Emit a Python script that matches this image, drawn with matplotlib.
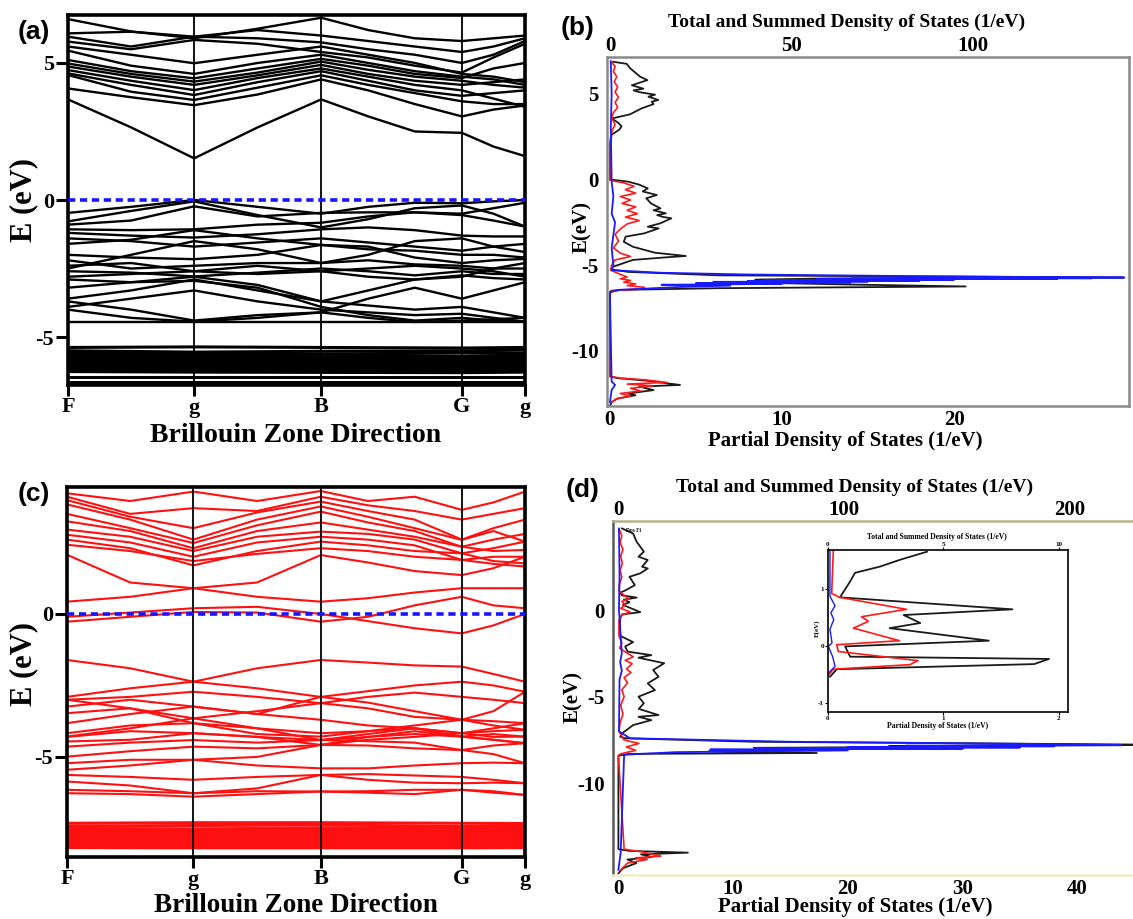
import matplotlib
matplotlib.use("Agg")
import matplotlib.pyplot as plt

plt.rcParams['font.family'] = ['Liberation Serif', 'DejaVu Serif']
plt.rcParams['font.weight'] = 'bold'
plt.rcParams['axes.unicode_minus'] = False

W, H = 1133, 919

# ---------------- band structure data ----------------
# high symmetry points along the path (fraction of path length)
k_sym = [0.0, 0.276, 0.554, 0.862, 1.0]
k_names = ["F", "g", "B", "G", "g"]
k_pts = [0.0, 0.138, 0.276, 0.415, 0.554, 0.657, 0.759, 0.862, 0.931, 1.0]

# (a) conduction bands, eV at k_pts
a_cond = [
    [3.67, 2.65, 1.52, 2.65, 3.67, 3.05, 2.5, 2.45, 1.95, 1.6],
    [4.07, 3.75, 3.46, 3.85, 4.4, 4.0, 3.5, 3.05, 3.3, 3.45],
    [4.56, 3.95, 3.65, 4.1, 4.55, 4.2, 3.9, 3.6, 3.5, 3.5],
    [4.62, 4.2, 3.83, 4.3, 4.7, 4.35, 4.0, 3.8, 3.9, 4.0],
    [4.74, 4.35, 4.01, 4.45, 4.8, 4.5, 4.2, 4.0, 3.7, 3.4],
    [4.87, 4.5, 4.2, 4.55, 4.93, 4.6, 4.35, 4.2, 4.3, 4.4],
    [4.98, 4.6, 4.32, 4.65, 5.05, 4.75, 4.5, 4.35, 4.2, 4.1],
    [5.11, 4.7, 4.44, 4.8, 5.15, 4.9, 4.6, 4.45, 4.8, 5.0],
    [5.45, 4.9, 4.6, 5.0, 5.3, 5.0, 4.7, 4.5, 4.4, 4.2],
    [5.6, 5.3, 4.99, 5.3, 5.6, 5.3, 5.0, 4.6, 4.5, 4.3],
    [5.78, 5.5, 5.84, 5.7, 5.4, 5.2, 4.9, 4.65, 5.2, 5.7],
    [5.96, 5.6, 5.96, 5.9, 5.75, 5.5, 5.3, 5.0, 5.3, 5.8],
    [6.08, 6.14, 5.96, 6.2, 6.0, 5.8, 5.6, 5.4, 5.6, 5.9],
    [6.6, 6.15, 5.9, 6.25, 6.65, 6.2, 5.9, 5.8, 5.9, 6.0],
]
# (a) valence bands
a_val = [
    [-0.47, -0.25, 0.0, -0.25, -0.5, -0.25, -0.1, -0.12, -0.05, 0.0],
    [-0.78, -0.4, -0.05, -0.55, -1.0, -0.7, -0.3, -0.2, -0.5, -0.97],
    [-0.9, -0.75, -0.23, -0.6, -0.47, -0.45, -0.45, -0.5, -0.3, -0.1],
    [-1.07, -1.1, -1.07, -0.9, -0.83, -0.6, -0.45, -0.55, -0.75, -0.97],
    [-1.2, -1.3, -1.37, -1.25, -1.07, -1.0, -1.1, -1.3, -1.33, -1.33],
    [-1.4, -1.5, -1.7, -1.55, -1.4, -1.55, -1.7, -1.85, -1.7, -1.6],
    [-1.6, -1.45, -1.1, -1.4, -1.64, -1.8, -1.85, -2.0, -2.0, -2.1],
    [-2.0, -2.1, -2.16, -2.0, -1.64, -1.7, -2.1, -2.3, -2.2, -2.15],
    [-2.2, -2.5, -2.4, -2.3, -2.3, -2.2, -2.35, -2.4, -2.5, -2.5],
    [-2.4, -2.3, -2.6, -2.7, -2.6, -2.5, -2.4, -2.5, -2.6, -2.8],
    [-2.6, -2.65, -2.79, -2.65, -2.5, -2.6, -2.75, -2.6, -2.7, -2.7],
    [-2.8, -2.7, -2.6, -2.4, -2.6, -2.8, -2.9, -2.75, -2.85, -2.9],
    [-2.5, -2.0, -1.5, -1.8, -2.3, -2.0, -1.5, -1.4, -1.7, -1.9],
    [-2.9, -3.0, -2.8, -3.1, -3.7, -3.3, -2.9, -2.8, -2.5, -2.3],
    [-3.2, -3.0, -2.95, -3.2, -3.9, -4.2, -4.4, -4.3, -4.4, -4.44],
    [-3.6, -3.3, -2.9, -3.3, -3.7, -3.85, -4.0, -3.9, -4.1, -4.3],
    [-3.7, -4.0, -4.4, -4.2, -4.1, -3.6, -3.2, -3.6, -3.3, -3.0],
    [-3.9, -3.6, -3.3, -3.7, -4.0, -4.1, -4.2, -4.15, -4.3, -4.44],
    [-4.0, -4.3, -4.44, -4.3, -4.1, -4.3, -4.45, -4.4, -4.35, -4.3],
    [-4.44, -4.44, -4.44, -4.44, -4.44, -4.44, -4.44, -4.44, -4.44, -4.44],
]
# (a) dense semicore bands, eV at k_sym
a_core = [
    [-5.38, -5.36, -5.38, -5.40, -5.38],
    [-5.50, -5.55, -5.52, -5.50, -5.48],
    [-5.58, -5.60, -5.62, -5.58, -5.60],
    [-5.65, -5.68, -5.66, -5.70, -5.66],
    [-5.72, -5.74, -5.75, -5.73, -5.72],
    [-5.78, -5.80, -5.82, -5.80, -5.78],
    [-5.85, -5.86, -5.88, -5.86, -5.84],
    [-5.90, -5.93, -5.92, -5.94, -5.91],
    [-5.96, -5.98, -5.99, -6.00, -5.97],
    [-6.02, -6.04, -6.05, -6.05, -6.03],
    [-6.08, -6.10, -6.12, -6.12, -6.10],
    [-6.14, -6.16, -6.18, -6.18, -6.15],
    [-6.20, -6.22, -6.24, -6.24, -6.22],
    [-6.26, -6.28, -6.29, -6.30, -6.28],
    [-6.45, -6.45, -6.45, -6.45, -6.45],
    [-6.63, -6.63, -6.63, -6.63, -6.63],
]

# (c) bands
c_cond = [
    [4.22, 3.95, 4.28, 3.95, 4.3, 3.95, 4.1, 3.64, 3.9, 4.28],
    [4.10, 3.5, 3.7, 3.6, 4.1, 3.8, 3.6, 3.3, 3.5, 3.7],
    [3.98, 3.4, 3.0, 3.55, 3.93, 3.6, 3.3, 2.6, 3.0, 3.3],
    [3.83, 3.3, 2.6, 3.3, 3.76, 3.4, 3.0, 2.59, 2.9, 2.53],
    [3.5, 3.0, 2.48, 3.1, 3.58, 3.2, 2.9, 2.35, 2.6, 2.8],
    [3.24, 2.9, 2.3, 2.9, 3.2, 2.95, 2.7, 2.35, 2.2, 2.24],
    [2.95, 2.7, 2.2, 2.7, 2.88, 2.8, 2.6, 2.12, 2.3, 2.53],
    [2.77, 2.5, 2.0, 2.5, 2.7, 2.6, 2.4, 1.89, 2.0, 2.0],
    [2.6, 2.3, 1.7, 2.2, 2.53, 2.4, 2.2, 2.12, 1.85, 1.77],
    [2.42, 2.2, 1.85, 2.1, 2.3, 2.2, 2.0, 1.89, 1.75, 1.66],
    [2.07, 1.1, 0.9, 1.1, 2.06, 1.8, 1.5, 1.36, 1.6, 2.0],
    [0.43, 0.6, 0.9, 0.6, 0.43, 0.55, 0.75, 0.9, 0.9, 0.9],
    [-0.1, 0.05, 0.2, 0.25, 0.0, -0.25, -0.5, -0.68, -0.4, 0.0],
    [-0.27, -0.1, 0.07, 0.05, -0.27, -0.1, 0.3, 0.6, 0.3, 0.2],
]
c_val = [
    [-1.61, -1.9, -2.37, -1.9, -1.61, -1.7, -1.8, -1.84, -2.1, -2.37],
    [-2.9, -2.6, -2.37, -2.6, -2.9, -2.7, -2.5, -2.37, -2.5, -2.72],
    [-3.0, -2.9, -2.72, -2.9, -3.12, -2.9, -2.75, -2.9, -3.0, -3.12],
    [-3.24, -3.0, -3.24, -3.5, -2.9, -3.1, -3.4, -3.7, -3.4, -2.72],
    [-3.47, -3.3, -3.65, -3.4, -3.12, -3.3, -3.6, -3.7, -3.75, -3.82],
    [-3.82, -3.5, -3.24, -3.5, -3.7, -3.9, -4.0, -4.17, -4.0, -3.82],
    [-4.17, -3.9, -3.82, -4.0, -4.17, -4.1, -4.0, -4.17, -4.1, -4.05],
    [-4.29, -4.0, -3.65, -4.0, -4.41, -4.2, -4.0, -4.29, -4.2, -4.29],
    [-4.46, -4.4, -4.17, -4.3, -4.58, -4.3, -4.1, -4.29, -4.4, -4.52],
    [-4.64, -4.5, -4.41, -4.5, -4.41, -4.45, -4.5, -4.76, -4.6, -4.52],
    [-4.99, -4.8, -4.64, -4.7, -4.58, -4.6, -4.7, -4.76, -4.9, -5.22],
    [-5.22, -5.1, -5.1, -5.0, -4.58, -4.4, -4.3, -4.17, -4.3, -4.29],
    [-5.45, -5.3, -5.1, -5.3, -5.4, -5.4, -5.3, -5.22, -5.2, -5.22],
    [-5.63, -5.7, -5.8, -5.7, -5.63, -5.6, -5.65, -5.7, -5.8, -5.92],
    [-5.86, -6.0, -6.27, -6.1, -5.63, -5.8, -5.9, -5.92, -5.9, -5.92],
    [-6.15, -6.2, -6.27, -6.2, -6.21, -6.2, -6.15, -6.15, -6.2, -6.33],
    [-6.27, -6.3, -6.39, -6.3, -6.21, -6.25, -6.3, -6.15, -6.25, -6.33],
    [-3.0, -3.3, -3.82, -4.2, -4.29, -4.1, -3.9, -3.7, -3.9, -4.05],
    [-4.3, -4.1, -4.17, -4.3, -4.41, -4.3, -4.2, -4.29, -4.4, -4.52],
]
c_core = [
    [-7.32, -7.30, -7.30, -7.32, -7.33],
    [-7.42, -7.40, -7.38, -7.43, -7.40],
    [-7.50, -7.52, -7.48, -7.50, -7.48],
    [-7.56, -7.58, -7.56, -7.58, -7.55],
    [-7.62, -7.64, -7.63, -7.64, -7.62],
    [-7.68, -7.70, -7.70, -7.70, -7.68],
    [-7.74, -7.76, -7.76, -7.78, -7.75],
    [-7.80, -7.82, -7.82, -7.84, -7.81],
    [-7.86, -7.88, -7.88, -7.90, -7.87],
    [-7.92, -7.94, -7.94, -7.95, -7.93],
    [-7.98, -8.00, -8.00, -8.01, -7.99],
    [-8.04, -8.06, -8.06, -8.07, -8.05],
    [-8.10, -8.12, -8.12, -8.12, -8.11],
    [-8.17, -8.18, -8.18, -8.18, -8.17],
]

# ---------------- DOS data (b) ----------------
# total DOS (top axis, 1/eV)
b_tot_E = [6.87, 6.75, 6.5, 6.0, 5.8, 5.5, 5.3, 5.2, 5.1, 4.95, 4.83, 4.64, 4.54, 4.4,
           4.15, 3.8, 3.56, 3.3, 3.1, 2.9, 2.6, 2.1, 2.0, 0.0, -0.13, -0.3, -0.52, -0.7,
           -0.91, -1.1, -1.4, -1.69, -1.8, -1.98, -2.08, -2.18, -2.27, -2.56, -2.76, -2.86,
           -3.15, -3.34, -3.64, -3.93, -4.28, -4.47, -4.55, -4.7, -5.1, -5.25, -5.4, -5.6,
           -5.72, -5.78, -5.85, -5.95, -6.05, -6.15, -6.25, -6.35, -6.45, -6.5, -6.6,
           -11.5, -11.6, -11.75, -12.0, -12.1, -12.3, -12.5, -12.6, -12.8, -13.0, -13.2]
b_tot = [0.9, 4.6, 5.5, 8.3, 10.3, 6.0, 9.2, 6.5, 8.0, 12.4, 10.6, 13.3, 11.5, 12.0,
         8.7, 5.5, 0.5, 2.3, 3.2, 2.5, 0.4, 0.2, 0.0, 0.0, 5.0, 8.0, 10.4, 9.0,
         12.9, 10.0, 11.3, 13.9, 12.0, 15.4, 13.0, 14.4, 16.9, 13.9, 10.4, 13.4,
         9.4, 4.3, 3.8, 6.3, 12.4, 20.9, 15.4, 6.3, 0.8, 0.3, 5.0, 30.0,
         141.0, 60.0, 40.0, 55.0, 45.0, 70.0, 98.0, 30.0, 3.0, 0.3, 0.0,
         0.0, 2.0, 10.0, 19.3, 8.0, 12.0, 5.0, 7.0, 2.0, 0.5, 0.0]
# partial DOS (bottom axis, 1/eV)
b_red_E = [6.9, 6.6, 6.3, 6.0, 5.7, 5.4, 5.1, 4.8, 4.5, 4.2, 3.9, 3.6, 3.2, 2.9, 2.5, 2.2,
           -0.05, -0.2, -0.4, -0.6, -0.8, -1.0, -1.2, -1.4, -1.6, -1.8, -2.0, -2.2, -2.4,
           -2.6, -2.9, -3.2, -3.6, -4.0, -4.3, -4.5, -4.7, -5.0, -5.3, -5.5, -5.7, -5.8,
           -5.9, -6.0, -6.1, -6.2, -6.3, -6.4, -6.5, -6.6,
           -11.5, -11.6, -11.7, -11.85, -11.95, -12.05, -12.2, -12.35, -12.5, -12.65,
           -12.8, -13.0]
b_red = [0.05, 0.3, 0.2, 0.4, 0.25, 0.45, 0.3, 0.5, 0.3, 0.45, 0.2, 0.1, 0.3, 0.15, 0.05, 0.0,
         0.0, 0.8, 1.4, 0.9, 1.5, 0.6, 1.2, 0.7, 1.5, 1.0, 1.6, 0.9, 1.7,
         1.0, 0.6, 0.3, 0.5, 0.2, 0.6, 1.2, 0.3, 0.1, 0.05, 0.5, 1.0, 0.6,
         1.2, 0.8, 1.5, 1.0, 2.0, 1.8, 0.2, 0.0,
         0.0, 0.6, 2.0, 3.3, 1.0, 2.5, 1.2, 1.8, 0.6, 1.2,
         0.4, 0.1]
b_blue_E = [6.9, 5.0, 3.0, -0.1, -1.0, -2.0, -2.5, -4.0, -5.0, -5.3, -5.45, -5.55, -5.65,
            -5.70, -5.73, -5.75, -5.77, -5.79, -5.81, -5.83, -5.86, -5.88, -5.91, -5.93,
            -5.96, -5.98, -6.02, -6.05, -6.1, -6.15, -6.2, -6.28, -6.38, -6.45, -6.6,
            -11.8, -12.0, -12.3, -13.0]
b_blue = [0.05, 0.1, 0.05, 0.1, 0.2, 0.1, 0.3, 0.1, 0.2, 0.1, 3.0, 8.0, 18.0,
          24.0, 29.9, 20.0, 28.0, 14.0, 26.0, 12.0, 20.0, 9.0, 18.0, 8.0,
          15.0, 6.0, 14.0, 5.0, 10.0, 3.0, 7.0, 4.0, 2.0, 0.5, 0.0,
          0.1, 0.3, 0.1, 0.0]

# ---------------- DOS data (d) ----------------
d_tot_E = [4.71, 4.42, 3.94, 3.37, 3.08, 2.89, 2.5, 2.4, 2.12, 1.92, 1.44, 1.15, 1.0, 0.85,
           0.72, 0.6, 0.45, 0.3, -0.12, -0.25, -0.5, -1.3, -1.5, -1.85, -2.1, -2.4, -2.6,
           -2.75, -3.07, -3.46, -3.85, -4.23, -4.62, -5.0, -5.38, -5.7, -6.06, -6.16, -6.35,
           -6.64, -7.12, -7.31, -7.4, -7.6, -7.78, -7.85, -7.9, -7.95, -8.05, -8.15, -8.25,
           -8.3, -8.4, -13.8, -13.9, -14.0, -14.1, -14.25, -14.4, -14.6, -14.9, -15.2]
d_tot = [1.6, 6.5, 8.1, 11.3, 8.9, 13.0, 10.5, 13.0, 9.7, 4.9, 7.3, 3.3, 0.8, 1.5,
         8.1, 2.4, 4.9, 2.0, 9.7, 1.6, 0.8, 0.5, 1.0, 6.5, 3.0, 4.1, 14.6,
         8.9, 20.3, 15.4, 17.8, 13.0, 16.2, 8.9, 11.3, 9.0, 17.8, 8.9, 14.6,
         6.5, 1.6, 0.8, 3.0, 60.0, 250.0, 120.0, 140.0, 60.0, 85.0, 40.0, 88.0,
         5.0, 0.0, 0.0, 5.0, 30.8, 10.0, 15.0, 4.0, 8.0, 2.0, 0.0]
d_red_E = [4.7, 4.3, 3.9, 3.5, 3.1, 2.7, 2.3, 1.9, 1.5, 1.1, 0.8, 0.65, 0.5, 0.3, 0.1, -0.1,
           -0.3, -0.6, -1.5, -1.9, -2.2, -2.5, -2.7, -2.9, -3.1, -3.4, -3.6, -3.9, -4.2,
           -4.6, -5.0, -5.5, -6.0, -6.5, -7.0, -7.5, -7.7, -7.9, -8.1, -8.3, -8.4,
           -13.8, -13.95, -14.2, -14.3, -14.4, -14.6, -15.0]
d_red = [0.05, 0.3, 0.15, 0.4, 0.2, 0.35, 0.15, 0.3, 0.1, 0.05, 0.6, 0.9, 0.3, 0.6, 0.2, 1.0,
         0.3, 0.05, 0.05, 0.3, 0.1, 0.8, 1.3, 0.6, 1.2, 0.7, 1.1, 0.5, 0.8,
         0.3, 0.5, 0.2, 0.4, 0.15, 0.05, 0.5, 1.8, 0.7, 1.5, 0.2, 0.0,
         0.5, 2.0, 3.7, 1.5, 2.5, 0.8, 0.2]
d_blue_E = [4.7, 2.0, 0.0, -2.5, -3.0, -3.5, -4.0, -7.0, -7.4, -7.6, -7.75, -7.8, -7.83,
            -7.86, -7.9, -7.93, -7.96, -8.0, -8.05, -8.1, -8.2, -8.35, -14.0, -15.0]
d_blue = [0.05, 0.1, 0.05, 0.3, 0.15, 0.3, 0.1, 0.05, 1.0, 15.0, 40.0, 43.8, 25.0,
          38.0, 20.0, 35.0, 12.0, 30.0, 8.0, 20.0, 5.0, 0.5, 0.2, 0.0]

# ---------------- inset of (d) ----------------
ins_tot_E = [1.65, 1.51, 1.39, 1.28, 1.13, 0.85, 0.64, 0.54, 0.40, 0.31, 0.09, -0.01,
             -0.19, -0.23, -0.32, -0.41, -0.54]
ins_tot = [4.29, 3.13, 2.26, 1.17, 0.96, 0.52, 7.99, 3.28, 4.0, 2.67, 6.97, 0.74,
           0.96, 9.58, 8.93, 0.38, 0.09]
ins_red_E = [1.68, 0.92, 0.85, 0.64, 0.51, 0.43, 0.31, 0.09, 0.02, -0.10, -0.26, -0.33,
             -0.41, -0.52]
ins_red = [0.046, 0.032, 0.10, 0.68, 0.29, 0.35, 0.22, 0.62, 0.075, 0.09, 0.78, 0.71,
           0.046, 0.003]
ins_blue_E = [1.68, 0.87, 0.70, 0.58, 0.46, 0.29, 0.05, -0.01, -0.19, -0.36, -0.48]
ins_blue = [0.017, 0.017, 0.061, 0.025, 0.05, 0.017, 0.035, 0.003, 0.04, 0.061, 0.003]


def box(l, t, r, b):
    return [l / W, 1 - b / H, (r - l) / W, (b - t) / H]


fig = plt.figure(figsize=(W / 100, H / 100), dpi=100)


def ftext(x, y, s, **kw):
    kw.setdefault('ha', 'center')
    kw.setdefault('va', 'center')
    fig.text(x / W, 1 - y / H, s, **kw)


def band_panel(rect, ylim, yt, bands, core, color, lw):
    ax = fig.add_axes(rect)
    for b in bands:
        ax.plot(k_pts, b, color=color, lw=lw, solid_joinstyle='round')
    for b in core:
        ax.plot(k_sym, b, color=color, lw=2.2)
    for k in k_sym[1:-1]:
        ax.axvline(k, color='k', lw=1.3, zorder=3)
    ax.plot([0, 1], [0, 0], color='#1515ff', lw=2.6, ls=(0, (2.0, 1.3)), zorder=4)
    ax.set_xlim(0, 1)
    ax.set_ylim(*ylim)
    ax.set_xticks(k_sym)
    ax.set_xticklabels(k_names, fontsize=16)
    ax.set_yticks(yt)
    ax.set_yticklabels([str(v) for v in yt], fontsize=16)
    ax.tick_params(axis='x', direction='out', length=8, width=2.2, pad=1)
    ax.tick_params(axis='y', direction='out', length=9, width=2.2, pad=1)
    for s in ax.spines.values():
        s.set_linewidth(2.6)
    return ax


ax_a = band_panel(box(68, 15, 525, 385), (-6.75, 6.75), [5, 0, -5],
                  a_cond + a_val, a_core, 'black', 1.7)
ax_c = band_panel(box(67, 487, 525, 857), (-8.5, 4.44), [0, -5],
                  c_cond + c_val, c_core, '#ff1010', 1.5)

ftext(24, 200, "E (eV)", rotation=90, fontsize=22)
ftext(24, 664, "E (eV)", rotation=90, fontsize=22)
ftext(296, 436, "Brillouin Zone Direction", fontsize=20)
ftext(296, 906, "Brillouin Zone Direction", fontsize=19.5)


def dos_panel(rect, ylim, xlim_p, xlim_t, xt_p, xt_t, yt, data, spine_cols, fs=15):
    ax = fig.add_axes(rect)
    axt = ax.twiny()
    tE, tv, rE, rv, bE, bv = data
    axt.plot(tv, tE, color='#1a1a1a', lw=1.3)
    ax.plot(rv, rE, color='#ff1a1a', lw=1.2)
    ax.plot(bv, bE, color='#1a1aff', lw=1.3)
    ax.set_zorder(axt.get_zorder() + 1)
    ax.patch.set_visible(False)
    ax.set_ylim(*ylim)
    ax.set_xlim(*xlim_p)
    axt.set_xlim(*xlim_t)
    ax.set_xticks(xt_p)
    ax.set_xticklabels([str(v) for v in xt_p], fontsize=fs)
    axt.set_xticks(xt_t)
    axt.set_xticklabels([str(v) for v in xt_t], fontsize=fs)
    ax.set_yticks(yt)
    ax.set_yticklabels([str(v) for v in yt], fontsize=fs)
    ax.tick_params(length=0, pad=3)
    axt.tick_params(length=0, pad=1)
    for side, col in spine_cols.items():
        ax.spines[side].set_color(col)
        ax.spines[side].set_linewidth(1.8)
    for s in axt.spines.values():
        s.set_visible(False)
    return ax, axt


ax_b, ax_bt = dos_panel(box(607, 57, 1129, 406), (-13.23, 7.15), (-0.17, 30.17), (-0.83, 143),
                        [0, 10, 20], [0, 50, 100], [5, 0, -5, -10],
                        (b_tot_E, b_tot, b_red_E, b_red, b_blue_E, b_blue),
                        {'left': '#8a8a8a', 'right': '#8a8a8a', 'top': '#8a8a8a', 'bottom': '#8a8a8a'})
ax_d, ax_dt = dos_panel(box(613, 521, 1145, 875), (-15.29, 5.14), (-0.47, 45.9), (-2.4, 233.6),
                        [0, 10, 20, 30, 40], [0, 100, 200], [0, -5, -10],
                        (d_tot_E, d_tot, d_red_E, d_red, d_blue_E, d_blue),
                        {'left': '#5a5a5a', 'right': 'none', 'top': '#b8b088', 'bottom': '#f2ebc4'})
ax_b.yaxis.set_tick_params(pad=6)
ax_d.yaxis.set_tick_params(pad=6)

ftext(847, 22, "Total and Summed Density of States (1/eV)", fontsize=14)
ftext(845, 441, "Partial Density of States (1/eV)", fontsize=15)
ftext(582, 227, "E(eV)", rotation=90, fontsize=15)
ftext(855, 487, "Total and Summed Density of States (1/eV)", fontsize=14)
ftext(855, 907, "Partial Density of States (1/eV)", fontsize=15)
ftext(573, 697, "E(eV)", rotation=90, fontsize=15)
ftext(634, 531, "Dos Fi", fontsize=4)

# inset
ins = fig.add_axes(box(828, 550, 1068, 712))
inst = ins.twiny()
inst.plot(ins_tot, ins_tot_E, color='#1a1a1a', lw=1.3)
ins.plot(ins_red, ins_red_E, color='#ff1a1a', lw=1.2)
ins.plot(ins_blue, ins_blue_E, color='#1a1aff', lw=1.0)
ins.set_zorder(inst.get_zorder() + 1)
ins.patch.set_visible(False)
ins.set_ylim(-1.16, 1.68)
ins.set_xlim(0, 2.08)
inst.set_xlim(0, 10.4)
ins.set_xticks([0, 1, 2])
ins.set_xticklabels(["0", "1", "2"], fontsize=5)
inst.set_xticks([0, 5, 10])
inst.set_xticklabels(["0", "5", "10"], fontsize=5)
ins.set_yticks([1, 0, -1])
ins.set_yticklabels(["1", "0", "-1"], fontsize=5)
ins.tick_params(length=2, width=0.8, pad=1)
inst.tick_params(length=2, width=0.8, pad=0)
for s in ins.spines.values():
    s.set_linewidth(1.2)
for s in inst.spines.values():
    s.set_visible(False)
ftext(937, 537, "Total and Summed Density of States (1/eV)", fontsize=5.5)
ftext(938, 726, "Partial Density of States (1/eV)", fontsize=5.5)
ftext(817, 628, "E(eV)", rotation=90, fontsize=5)

# panel letters
for x, y, s in [(34, 32, "(a)"), (578, 28, "(b)"), (34, 494, "(c)"), (583, 490, "(d)")]:
    ftext(x, y, s, fontsize=19, family='Liberation Sans', weight='bold')

fig.savefig("out.png", dpi=100)
